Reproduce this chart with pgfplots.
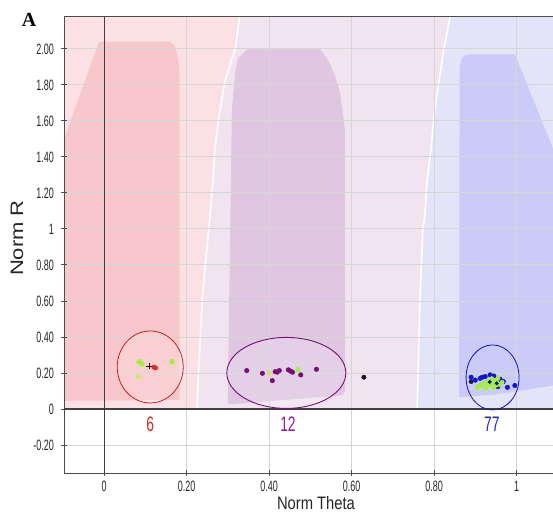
\documentclass[border=0pt]{standalone}
\usepackage{fontspec}
\setmainfont{Liberation Sans}
\newfontfamily\ticknarrow[FakeStretch=0.6]{Liberation Sans}
\newfontfamily\countfont[FakeStretch=0.66]{Liberation Sans}
\newfontfamily\labelfont[FakeStretch=0.82]{Liberation Sans}
\newfontfamily\panelfont{Liberation Serif}
\usepackage{pgfplots}
\pgfplotsset{compat=1.18}

% cluster region colours
\definecolor{pinkbg}{HTML}{FBE1E3}
\definecolor{pinkdk}{HTML}{F8C7CB}
\definecolor{purpbg}{HTML}{F2E4EF}
\definecolor{purpdk}{HTML}{DFC7E2}
\definecolor{bluebg}{HTML}{E4E4F8}
\definecolor{bluedk}{HTML}{CBCBF8}
% genotype call colours
\definecolor{aacol}{HTML}{E02828}
\definecolor{abcol}{HTML}{7A0C7A}
\definecolor{bbcol}{HTML}{1414D8}
\definecolor{limecol}{HTML}{A4EE3C}
\definecolor{palelime}{HTML}{D2E46A}
\definecolor{redtxt}{HTML}{D42A2A}
\definecolor{purtxt}{HTML}{8E1E8E}
\definecolor{blutxt}{HTML}{2424D0}

\begin{document}
\begin{tikzpicture}[x=1pt,y=1pt]
\begin{axis}[
  at={(64pt,50pt)}, anchor=south west,
  scale only axis, width=493.75pt, height=456pt,
  xmin=-0.097, xmax=1.10, ymin=-0.356, ymax=2.177,
  set layers=standard,
  xtick={0,0.2,0.4,0.6,0.8,1},
  xticklabels={0,0.20,0.40,0.60,0.80,1},
  ytick={-0.2,0,0.2,0.4,0.6,0.8,1,1.2,1.4,1.6,1.8,2},
  yticklabels={-0.20,0,0.20,0.40,0.60,0.80,1,1.20,1.40,1.60,1.80,2.00},
  tick pos=left, tick align=center, major tick length=6pt,
  tick style={black!70, line width=0.8pt},
  xticklabel style={font=\ticknarrow\fontsize{15}{15}\selectfont, text=black!85, inner sep=0pt, yshift=-5pt},
  yticklabel style={font=\ticknarrow\fontsize{15}{15}\selectfont, text=black!85, inner sep=0pt, xshift=-7pt},
  grid=major, major grid style={black!16, line width=0.8pt},
  axis line style={black!70, line width=1pt},
  clip=true,
]
% --- light call regions (above R = 0), kept inside the plot frame ---
\addplot[on layer=axis background, fill=pinkbg, draw=none] coordinates {
  (-0.097,0) (-0.097,2.177) (0.329,2.177) (0.318,2.0) (0.293,1.82) (0.279,1.63)
  (0.269,1.45) (0.264,1.26) (0.257,1.08) (0.238,0.61) (0.225,0)} -- cycle;
\addplot[on layer=axis background, fill=purpbg, draw=none] coordinates {
  (0.225,0) (0.238,0.61) (0.257,1.08) (0.264,1.26) (0.269,1.45) (0.279,1.63) (0.293,1.82)
  (0.318,2.0) (0.329,2.177)
  (0.839,2.177) (0.824,2.0) (0.812,1.82) (0.800,1.63) (0.793,1.45)
  (0.783,1.26) (0.778,1.08) (0.773,1.0) (0.766,0.61) (0.759,0)} -- cycle;
\addplot[on layer=axis background, fill=bluebg, draw=none] coordinates {
  (0.759,0) (0.766,0.61) (0.773,1.0) (0.778,1.08) (0.783,1.26) (0.793,1.45) (0.800,1.63)
  (0.812,1.82) (0.824,2.0) (0.839,2.177) (1.10,2.177) (1.10,0)} -- cycle;
% --- dense call regions ---
\addplot[on layer=axis background, fill=pinkdk, draw=none] coordinates {
  (-0.097,0.045) (-0.097,1.50) (-0.012,2.04) (0.160,2.04) (0.170,2.02)
  (0.177,1.98) (0.181,1.92) (0.183,1.85) (0.183,0.05)} -- cycle;
\addplot[on layer=axis background, fill=purpdk, draw=none] coordinates {
  (0.300,0.025) (0.310,1.66) (0.318,1.87) (0.325,1.95) (0.349,2.0) (0.524,2.0)
  (0.545,1.93) (0.560,1.85) (0.572,1.76) (0.584,1.55) (0.584,0.10) (0.578,0.078)
  (0.560,0.072)} -- cycle;
\addplot[on layer=axis background, fill=bluedk, draw=none] coordinates {
  (0.861,0.065) (0.862,1.90) (0.866,1.94) (0.874,1.962) (0.885,1.97) (0.996,1.97)
  (1.10,1.382) (1.10,0.134) (1.088,0.13) (0.95,0.08)} -- cycle;
% --- white separators between call regions ---
\addplot[on layer=axis background, white, line width=1.6pt] coordinates {
  (0.225,0) (0.238,0.61) (0.257,1.08) (0.264,1.26) (0.269,1.45) (0.279,1.63) (0.293,1.82)
  (0.318,2.0) (0.329,2.177)};
\addplot[on layer=axis background, white, line width=1.6pt] coordinates {
  (0.759,0) (0.766,0.61) (0.773,1.0) (0.778,1.08) (0.783,1.26) (0.793,1.45) (0.800,1.63)
  (0.812,1.82) (0.824,2.0) (0.839,2.177)};

% origin lines
\draw[black!75, line width=1pt] (axis cs:0,-0.356) -- (axis cs:0,2.177);
\draw[black!75, line width=1.3pt] (axis cs:-0.097,0) -- (axis cs:1.10,0);

% cluster ellipses
\draw[aacol!85!black, line width=0.8pt, fill=white, fill opacity=0.15] (axis cs:0.112,0.233) ellipse [x radius=33pt, y radius=36pt];
\draw[abcol, line width=0.9pt, fill=white, fill opacity=0.15] (axis cs:0.442,0.200) ellipse [x radius=59.5pt, y radius=35.5pt];
\draw[bbcol!85!black, line width=0.8pt] (axis cs:0.942,0.175) ellipse [x radius=26.5pt, y radius=32.5pt];

% --- samples ---
% AA cluster
\addplot[only marks, mark=*, mark size=2.4pt, limecol, mark options={draw=none}] coordinates {
  (0.085,0.262) (0.092,0.250) (0.165,0.262)};
\addplot[only marks, mark=*, mark size=2.4pt, palelime, mark options={draw=none}] coordinates {
  (0.083,0.182)};
\addplot[only marks, mark=*, mark size=2.2pt, aacol, mark options={draw=none}] coordinates {
  (0.125,0.228) (0.121,0.232)};
\addplot[only marks, mark=+, mark size=3pt, black!80!red, line width=0.8pt] coordinates {
  (0.110,0.238)};
% AB cluster
\addplot[only marks, mark=*, mark size=2.3pt, palelime, mark options={draw=none}] coordinates {
  (0.400,0.200)};
\addplot[only marks, mark=*, mark size=2.3pt, abcol, mark options={draw=none}] coordinates {
  (0.346,0.213) (0.384,0.198) (0.408,0.157) (0.415,0.207) (0.420,0.204) (0.425,0.213)
  (0.447,0.217) (0.452,0.210) (0.457,0.204) (0.477,0.189) (0.515,0.220)};
\addplot[only marks, mark=*, mark size=2.3pt, limecol, mark options={draw=none}] coordinates {
  (0.470,0.218)};
% unassigned
\addplot[only marks, mark=*, mark size=2.2pt, black!90, mark options={draw=none}] coordinates {
  (0.630,0.176) (0.890,0.152) (0.932,0.142)};
% BB cluster
\addplot[only marks, mark=*, mark size=2.3pt, bbcol, mark options={draw=none}] coordinates {
  (0.890,0.176) (0.900,0.160) (0.912,0.170) (0.924,0.180) (0.936,0.189) (0.945,0.183)
  (0.960,0.165) (0.968,0.152) (0.978,0.120) (0.996,0.130) (0.955,0.124) (0.917,0.176)};
\addplot[only marks, mark=*, mark size=2.2pt, limecol, mark options={draw=none}] coordinates {
  (0.905,0.120) (0.915,0.135) (0.920,0.150) (0.930,0.130) (0.935,0.160) (0.940,0.140)
  (0.945,0.120) (0.950,0.150) (0.955,0.170) (0.960,0.135) (0.925,0.115) (0.910,0.128)
  (0.950,0.132) (0.940,0.168) (0.965,0.148) (0.930,0.150) (0.945,0.158)};
\addplot[only marks, mark=*, mark size=1.8pt, bbcol!80!black, mark options={draw=none}] coordinates {
  (0.935,0.150) (0.952,0.142)};

% cluster sizes
\node[anchor=base, text=redtxt] at (axis cs:0.112,-0.124) {\countfont\fontsize{21}{21}\selectfont 6};
\node[anchor=base, text=purtxt] at (axis cs:0.446,-0.124) {\countfont\fontsize{21}{21}\selectfont 12};
\node[anchor=base, text=blutxt] at (axis cs:0.940,-0.124) {\countfont\fontsize{21}{21}\selectfont 77};
\end{axis}

\node[anchor=base, text=black!85] at (316,13.5) {\labelfont\fontsize{18}{18}\selectfont Norm Theta};
\node[rotate=90, text=black!85] at (17,285) {\scalebox{1}[0.82]{\fontsize{22}{22}\selectfont Norm R}};
\node[text=black] at (29,503.5) {\panelfont\bfseries\fontsize{20}{20}\selectfont A};
% page frame
\pgfresetboundingbox
\useasboundingbox (0,0) rectangle (553,523);
\end{tikzpicture}
\end{document}
